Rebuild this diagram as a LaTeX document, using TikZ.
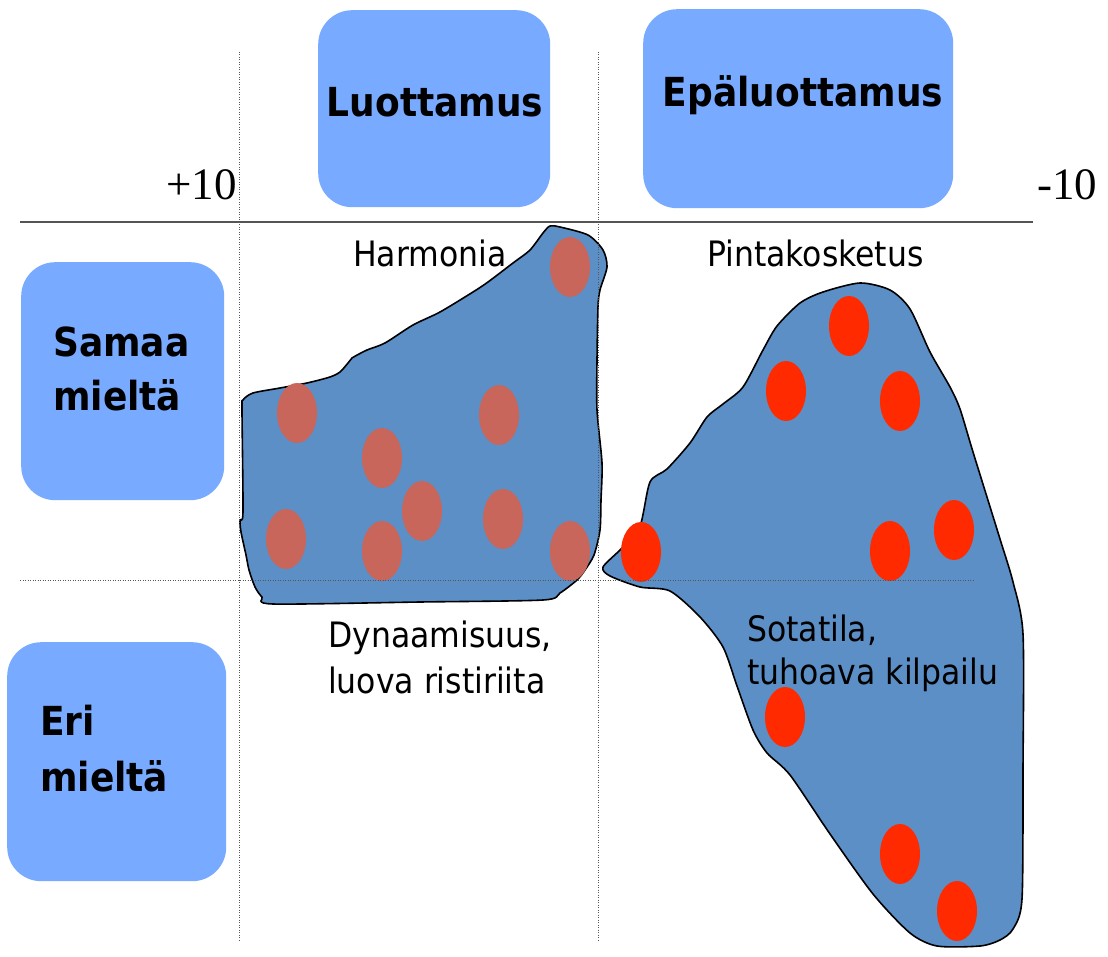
\documentclass[tikz,border=0pt]{standalone}
\usepackage{fontspec}
\setmainfont{DejaVu Sans Condensed}
\newfontfamily\numfont{Liberation Serif}
\usetikzlibrary{shapes.geometric}
\definecolor{boxblue}{HTML}{78AAFF}
\definecolor{blobblue}{HTML}{5B8FC6}
\definecolor{softred}{HTML}{C8665C}
\definecolor{hotred}{HTML}{FF2A00}
\definecolor{linegray}{HTML}{555555}
\begin{document}
\begin{tikzpicture}[x=1pt,y=-1pt,
 catbox/.style={fill=boxblue, rounded corners=34pt, draw=none, inner sep=0pt},
 blob/.style={fill=blobblue, draw=black, line width=1.6pt, line join=round},
 softdot/.style={ellipse, fill=softred, minimum width=40pt, minimum height=60pt, inner sep=0pt},
 hotdot/.style={ellipse, fill=hotred, minimum width=40pt, minimum height=60pt, inner sep=0pt},
 headtxt/.style={font=\fontsize{40}{44}\selectfont\bfseries, inner sep=0pt},
 bodytxt/.style={font=\fontsize{35}{38}\selectfont, inner sep=0pt},
 numtxt/.style={font=\numfont\fontsize{45}{50}\selectfont, inner sep=0pt},
 guide/.style={draw=linegray, line width=1pt, dash pattern=on 1pt off 1.5pt},
 axisline/.style={draw=linegray, line width=1.8pt}
]
\useasboundingbox (0,0) rectangle (1108,957);

% category boxes
\node[catbox, minimum width=232pt, minimum height=197pt, anchor=north west] (trustbox) at (318,10) {};
\node[catbox, minimum width=310pt, minimum height=199pt, anchor=north west] (distrustbox) at (643,9) {};
\node[catbox, minimum width=203pt, minimum height=238pt, anchor=north west] (agreebox) at (21,262) {};
\node[catbox, minimum width=219pt, minimum height=239pt, anchor=north west] (disagreebox) at (7,642) {};

% left blob
\draw[blob] plot[smooth cycle, tension=0.45] coordinates {
 (243,400) (253,393) (280,388) (307,383) (330,377) (340,372) (348,363) (352,358)
 (367,350) (385,343) (413,325) (440,312) (473,292) (488,282) (513,263) (530,250)
 (543,233) (550,226) (560,227) (588,235) (603,250) (607,267) (600,290) (598,307)
 (597,360) (597,410) (602,463) (601,500) (600,530) (594,555) (585,570) (577,580)
 (560,593) (543,600) (420,602) (273,604) (262,597) (255,587) (249,570) (246,555)
 (241,532) (240,520) (243,512) (242,410)};

% right blob
\draw[blob] plot[smooth cycle, tension=0.45] coordinates {
 (603,567) (622,548) (640,526) (650,482) (667,469) (690,443) (707,417) (723,404)
 (743,387) (763,350) (777,326) (800,303) (823,292) (860,283) (890,290) (910,309)
 (930,352) (950,387) (960,409) (973,452) (1000,539) (1013,582) (1023,634)
 (1023,770) (1022,899) (1013,929) (1000,940) (980,946) (937,946) (910,933)
 (873,894) (830,834) (790,775) (767,753) (753,730) (737,686) (723,647) (700,617)
 (670,591) (640,587) (610,576)};

% dots, left blob
\node[softdot] (s1) at (570,267) {};
\node[softdot] (s2) at (297,413) {};
\node[softdot] (s3) at (499,415) {};
\node[softdot] (s4) at (382,458) {};
\node[softdot] (s5) at (422,511) {};
\node[softdot] (s6) at (503,519) {};
\node[softdot] (s7) at (286,539) {};
\node[softdot] (s8) at (382,551) {};
\node[softdot] (s9) at (570,551) {};

% dots, right blob
\node[hotdot] (r1) at (849,326) {};
\node[hotdot] (r2) at (786,391) {};
\node[hotdot] (r3) at (900,401) {};
\node[hotdot] (r4) at (954,530) {};
\node[hotdot] (r5) at (890,551) {};
\node[hotdot] (r6) at (641,552) {};
\node[hotdot] (r7) at (785,717) {};
\node[hotdot] (r8) at (900,854) {};
\node[hotdot] (r9) at (957,911) {};

% guide lines
\coordinate (v1top) at (239,52);
\coordinate (v1bot) at (239,942);
\coordinate (v2top) at (598,52);
\coordinate (v2bot) at (598,942);
\coordinate (hleft) at (20,580);
\coordinate (hright) at (973,580);
\coordinate (axleft) at (20,222);
\coordinate (axright) at (1033,222);
\draw[guide] (v1top) -- (v1bot);
\draw[guide] (v2top) -- (v2bot);
\draw[guide] (hleft) -- (hright);
\draw[axisline] (axleft) -- (axright);

% texts
\node[numtxt, anchor=base east] (plus) at (237,200) {+10};
\node[numtxt, anchor=base west] (minus) at (1037,200) {-10};
\node[headtxt, anchor=base] (trustlbl) at (435,117) {Luottamus};
\node[headtxt, anchor=base] (distrustlbl) at (803,107) {Epäluottamus};
\node[headtxt, anchor=base west] (agree1) at (53,356) {Samaa};
\node[headtxt, anchor=base west] (agree2) at (53,410) {mieltä};
\node[headtxt, anchor=base west] (dis1) at (40,735) {Eri};
\node[headtxt, anchor=base west] (dis2) at (40,791) {mieltä};
\node[bodytxt, anchor=base west] (harm) at (353,267) {Harmonia};
\node[bodytxt, anchor=base west] (pinta) at (707,267) {Pintakosketus};
\node[bodytxt, anchor=base west] (dyn1) at (328,647) {Dynaamisuus,};
\node[bodytxt, anchor=base west] (dyn2) at (328,693) {luova ristiriita};
\node[bodytxt, anchor=base west] (sota1) at (747,641) {Sotatila,};
\node[bodytxt, anchor=base west] (sota2) at (747,684) {tuhoava kilpailu};
\end{tikzpicture}
\end{document}
